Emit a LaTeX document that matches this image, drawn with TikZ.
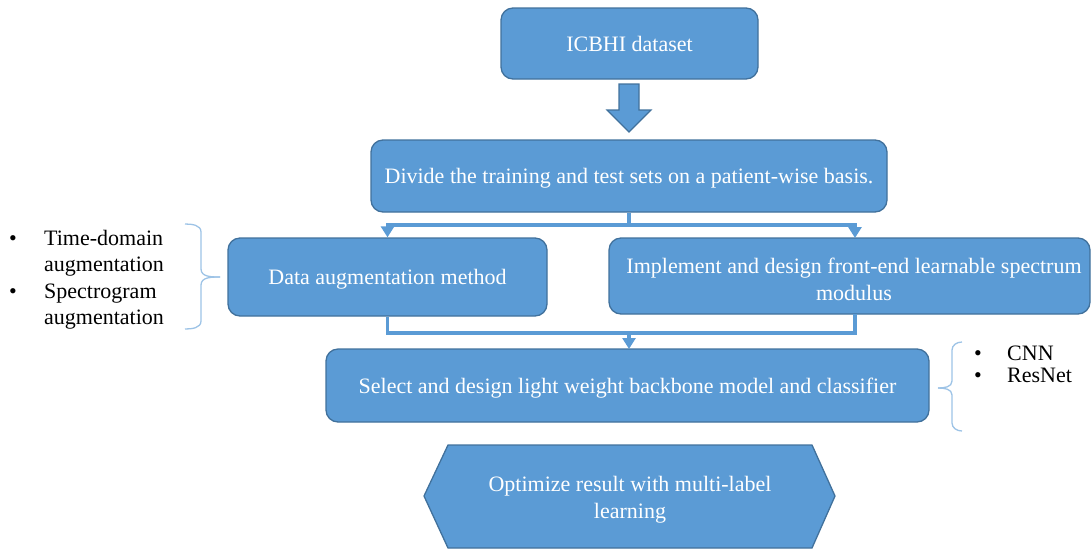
\documentclass[tikz,border=0pt]{standalone}
\usepackage{fontspec}
\setmainfont{Liberation Serif}
\usetikzlibrary{arrows.meta}
\definecolor{boxfill}{HTML}{5B9BD5}
\definecolor{boxline}{HTML}{41719C}
\definecolor{bracecol}{HTML}{9DC3E6}
\tikzset{
  box/.style={draw=boxline, line width=1.3pt, fill=boxfill, rounded corners=12pt,
    text=white, align=center, inner sep=0pt, text height=20pt, text depth=5pt,
    font=\fontsize{22}{27}\selectfont},
  boxtext/.style={text=white, align=center, inner sep=0pt,
    font=\fontsize{22}{27}\selectfont},
  conn/.style={draw=boxfill, line width=3.2pt},
  arr/.style={conn, -{Triangle[width=13pt,length=11pt]}},
  bracestyle/.style={draw=bracecol, line width=1.3pt},
  lbl/.style={inner sep=0pt, font=\fontsize{22}{27}\selectfont, anchor=base west},
  bul/.style={inner sep=0pt, font=\fontsize{22}{27}\selectfont, anchor=base}
}
\begin{document}
\begin{tikzpicture}[x=1pt,y=-1pt]
\useasboundingbox (0,0) rectangle (1091,550);
% boxes
\node[box, minimum width=257pt, minimum height=71pt] (icbhi) at (629.5,43.5) {ICBHI dataset};
\node[box, minimum width=516pt, minimum height=72pt] (divide) at (629,176) {Divide the training and test sets on a patient-wise basis.};
\node[box, minimum width=319pt, minimum height=78pt] (aug) at (387.5,277) {Data augmentation method};
\node[box, minimum width=481pt, minimum height=76pt] (impl) at (849.5,276) {};
\node[boxtext] (impltext) at (854,279) {Implement and design front-end learnable spectrum\\modulus};
\node[box, minimum width=603pt, minimum height=73pt] (select) at (627.5,385.5) {Select and design light weight backbone model and classifier};
% hexagon
\path[draw=boxline, line width=1.3pt, fill=boxfill] (424,496) -- (448,445) -- (812,445) -- (835,496) -- (812,548) -- (448,548) -- cycle;
\node[boxtext] (opt) at (630,500) {Optimize result with multi-label\\learning};
% big arrow
\path[draw=boxline, line width=1.2pt, fill=boxfill] (619,84) -- (639,84) -- (639,110) -- (651,110) -- (629,132) -- (607,110) -- (619,110) -- cycle;
% connectors
\coordinate (j1) at (629,225);
\coordinate (ia) at (855,238);
\coordinate (ib) at (855,314);
\coordinate (j2) at (629,333);
\coordinate (sel) at (629,349);
\draw[conn] (divide.south -| j1) -- (j1);
\draw[arr] (j1) -| (aug.north);
\draw[arr] (j1) -| (ia);
\draw[conn, line join=miter] (aug.south) |- (j2 -| ib) -- (ib);
\draw[arr] (j2) -- (sel);
% left brace
\draw[bracestyle] (185,224) to[out=0,in=90] (201,232) -- (201,269) to[out=270,in=180] (220,277);
\draw[bracestyle] (220,277) to[out=180,in=90] (201,285) -- (201,321) to[out=270,in=0] (185,329);
% right brace
\draw[bracestyle] (962,342) to[out=180,in=90] (952,350) -- (952,381) to[out=270,in=0] (938,388);
\draw[bracestyle] (938,388) to[out=0,in=90] (952,395) -- (952,423) to[out=270,in=180] (962,431);
% left list
\node[bul] (b1) at (13,245) {•};
\node[lbl] (t1) at (44,245) {Time-domain};
\node[lbl] (t2) at (44,271.5) {augmentation};
\node[bul] (b2) at (13,298) {•};
\node[lbl] (t3) at (44,298) {Spectrogram};
\node[lbl] (t4) at (44,324.5) {augmentation};
% right list
\node[bul] (b3) at (978,360) {•};
\node[lbl] (r1) at (1007,360) {CNN};
\node[bul] (b4) at (978,382) {•};
\node[lbl] (r2) at (1007,382) {ResNet};
\end{tikzpicture}
\end{document}
